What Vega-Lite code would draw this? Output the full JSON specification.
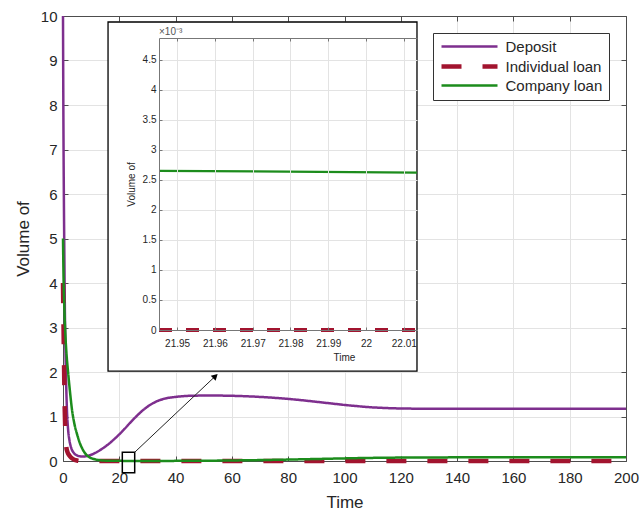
{
  "$schema": "https://vega.github.io/schema/vega-lite/v6.json",
  "width": 563,
  "height": 445,
  "autosize": {"type": "none"},
  "padding": {"left": 63, "top": 16, "right": 14, "bottom": 51},
  "background": "white",
  "config": {
    "font": "Liberation Sans",
    "view": {"stroke": null},
    "axis": {
      "labelColor": "#262626",
      "titleColor": "#262626",
      "titleFontWeight": "normal",
      "domainColor": "#4d4d4d",
      "tickColor": "#4d4d4d",
      "gridColor": "#e3e3e3",
      "gridOpacity": 1,
      "labelFlush": false,
      "labelOverlap": false
    }
  },
  "datasets": {
    "main": [
      {"series": "Deposit", "t": 0, "v": 10},
      {"series": "Deposit", "t": 0.1, "v": 8.3},
      {"series": "Deposit", "t": 0.2, "v": 7.0},
      {"series": "Deposit", "t": 0.35, "v": 5.6},
      {"series": "Deposit", "t": 0.5, "v": 4.5},
      {"series": "Deposit", "t": 0.7, "v": 3.2},
      {"series": "Deposit", "t": 0.9, "v": 2.4},
      {"series": "Deposit", "t": 1.1, "v": 1.8},
      {"series": "Deposit", "t": 1.4, "v": 1.15},
      {"series": "Deposit", "t": 1.8, "v": 0.72},
      {"series": "Deposit", "t": 2.3, "v": 0.46},
      {"series": "Deposit", "t": 3, "v": 0.28},
      {"series": "Deposit", "t": 4, "v": 0.17},
      {"series": "Deposit", "t": 5, "v": 0.125},
      {"series": "Deposit", "t": 6, "v": 0.105},
      {"series": "Deposit", "t": 7, "v": 0.1},
      {"series": "Deposit", "t": 8, "v": 0.105},
      {"series": "Deposit", "t": 9, "v": 0.12},
      {"series": "Deposit", "t": 10, "v": 0.14},
      {"series": "Deposit", "t": 12, "v": 0.2},
      {"series": "Deposit", "t": 14, "v": 0.28},
      {"series": "Deposit", "t": 16, "v": 0.37},
      {"series": "Deposit", "t": 18, "v": 0.48},
      {"series": "Deposit", "t": 20, "v": 0.6},
      {"series": "Deposit", "t": 22, "v": 0.73},
      {"series": "Deposit", "t": 24, "v": 0.87},
      {"series": "Deposit", "t": 26, "v": 1.0},
      {"series": "Deposit", "t": 28, "v": 1.12},
      {"series": "Deposit", "t": 30, "v": 1.22},
      {"series": "Deposit", "t": 32, "v": 1.3},
      {"series": "Deposit", "t": 34, "v": 1.36},
      {"series": "Deposit", "t": 36, "v": 1.4},
      {"series": "Deposit", "t": 40, "v": 1.44},
      {"series": "Deposit", "t": 45, "v": 1.465},
      {"series": "Deposit", "t": 50, "v": 1.47},
      {"series": "Deposit", "t": 55, "v": 1.47},
      {"series": "Deposit", "t": 60, "v": 1.465},
      {"series": "Deposit", "t": 65, "v": 1.455},
      {"series": "Deposit", "t": 70, "v": 1.44},
      {"series": "Deposit", "t": 75, "v": 1.42},
      {"series": "Deposit", "t": 80, "v": 1.395},
      {"series": "Deposit", "t": 85, "v": 1.365},
      {"series": "Deposit", "t": 90, "v": 1.33},
      {"series": "Deposit", "t": 95, "v": 1.295},
      {"series": "Deposit", "t": 100, "v": 1.26},
      {"series": "Deposit", "t": 105, "v": 1.23},
      {"series": "Deposit", "t": 110, "v": 1.205},
      {"series": "Deposit", "t": 115, "v": 1.19},
      {"series": "Deposit", "t": 120, "v": 1.18},
      {"series": "Deposit", "t": 130, "v": 1.175},
      {"series": "Deposit", "t": 140, "v": 1.175},
      {"series": "Deposit", "t": 160, "v": 1.175},
      {"series": "Deposit", "t": 180, "v": 1.175},
      {"series": "Deposit", "t": 200, "v": 1.175},
      {"series": "Individual loan", "t": 0, "v": 4},
      {"series": "Individual loan", "t": 0.3, "v": 2.5},
      {"series": "Individual loan", "t": 0.6, "v": 1.2},
      {"series": "Individual loan", "t": 0.9, "v": 0.55},
      {"series": "Individual loan", "t": 1.2, "v": 0.3},
      {"series": "Individual loan", "t": 1.6, "v": 0.2},
      {"series": "Individual loan", "t": 2.2, "v": 0.13},
      {"series": "Individual loan", "t": 3, "v": 0.07},
      {"series": "Individual loan", "t": 4, "v": 0.03},
      {"series": "Individual loan", "t": 5, "v": 0.01},
      {"series": "Individual loan", "t": 6, "v": 0},
      {"series": "Individual loan", "t": 200, "v": 0},
      {"series": "Company loan", "t": 0, "v": 5},
      {"series": "Company loan", "t": 0.2, "v": 4.1},
      {"series": "Company loan", "t": 0.5, "v": 3.4},
      {"series": "Company loan", "t": 0.8, "v": 2.9},
      {"series": "Company loan", "t": 1.2, "v": 2.45},
      {"series": "Company loan", "t": 1.8, "v": 2.0},
      {"series": "Company loan", "t": 2.5, "v": 1.55},
      {"series": "Company loan", "t": 3.2, "v": 1.15},
      {"series": "Company loan", "t": 4, "v": 0.85},
      {"series": "Company loan", "t": 5, "v": 0.6},
      {"series": "Company loan", "t": 6, "v": 0.4},
      {"series": "Company loan", "t": 7, "v": 0.26},
      {"series": "Company loan", "t": 8, "v": 0.16},
      {"series": "Company loan", "t": 9, "v": 0.1},
      {"series": "Company loan", "t": 10, "v": 0.065},
      {"series": "Company loan", "t": 12, "v": 0.028},
      {"series": "Company loan", "t": 14, "v": 0.012},
      {"series": "Company loan", "t": 17, "v": 0.005},
      {"series": "Company loan", "t": 22, "v": 0.0026},
      {"series": "Company loan", "t": 30, "v": 0.002},
      {"series": "Company loan", "t": 45, "v": 0.004},
      {"series": "Company loan", "t": 60, "v": 0.012},
      {"series": "Company loan", "t": 75, "v": 0.026},
      {"series": "Company loan", "t": 90, "v": 0.045},
      {"series": "Company loan", "t": 105, "v": 0.065},
      {"series": "Company loan", "t": 120, "v": 0.077},
      {"series": "Company loan", "t": 140, "v": 0.082},
      {"series": "Company loan", "t": 160, "v": 0.084},
      {"series": "Company loan", "t": 180, "v": 0.085},
      {"series": "Company loan", "t": 200, "v": 0.085}
    ],
    "inset_company": [
      {"t": 21.9452, "v": 0.00265},
      {"t": 22.0135, "v": 0.00262}
    ],
    "inset_individual": [
      {"t": 21.9452, "v": 0},
      {"t": 22.0135, "v": 0}
    ],
    "inset_note": [
      {"t": 21.9452, "v": 0.00486, "label": "×10⁻³"}
    ],
    "frame": [{"x": 16.0, "x2": 125.75, "y": 2.02, "y2": 9.865}],
    "zoombox": [{"x": 21.07, "x2": 25.47, "y": -0.263, "y2": 0.196}],
    "arrow": [{"x": 25.47, "y": 0.196, "x2": 54.14, "y2": 1.908}]
  },
  "resolve": {"scale": {"x": "independent", "y": "independent"}},
  "layer": [
    {
      "layer": [
        {
          "data": {"name": "main"},
          "mark": {"type": "line", "interpolate": "monotone"},
          "encoding": {
            "x": {
              "field": "t", "type": "quantitative",
              "scale": {"domain": [0, 200], "nice": false, "zero": false},
              "axis": {"orient": "bottom", "values": [0, 20, 40, 60, 80, 100, 120, 140, 160, 180, 200], "title": "Time", "titleFontSize": 17, "labelFontSize": 15, "grid": true, "tickSize": -5, "labelPadding": 14, "titlePadding": 9}
            },
            "y": {
              "field": "v", "type": "quantitative",
              "scale": {"domain": [0, 10], "nice": false},
              "axis": {"orient": "left", "values": [0, 1, 2, 3, 4, 5, 6, 7, 8, 9, 10], "title": "Volume of", "titleFontSize": 17, "labelFontSize": 15, "grid": true, "tickSize": -5, "labelPadding": 11, "titlePadding": 8}
            },
            "color": {
              "field": "series", "type": "nominal",
              "scale": {"domain": ["Deposit", "Individual loan", "Company loan"], "range": ["#7E2F8E", "#A2142F", "#1C8C1C"]},
              "legend": {"title": null, "orient": "top-right", "offset": 17, "strokeColor": "#333333", "fillColor": "white", "padding": 6, "symbolType": "M-5.6,0L5.6,0", "symbolSize": 100, "symbolOffset": 23, "labelFontSize": 15, "labelColor": "#262626", "labelOffset": 28.5, "rowPadding": 2}
            },
            "strokeDash": {
              "field": "series", "type": "nominal",
              "scale": {"domain": ["Deposit", "Individual loan", "Company loan"], "range": [[1, 0], [20, 21], [1, 0]]}
            },
            "strokeWidth": {
              "field": "series", "type": "nominal",
              "scale": {"type": "ordinal", "domain": ["Deposit", "Individual loan", "Company loan"], "range": [2.5, 4.5, 2.5]}
            }
          }
        },
        {
          "data": {"name": "frame"},
          "mark": {"type": "rect", "fill": "white", "stroke": "black", "strokeWidth": 1.3},
          "encoding": {
            "x": {"field": "x", "type": "quantitative"},
            "x2": {"field": "x2"},
            "y": {"field": "y", "type": "quantitative"},
            "y2": {"field": "y2"}
          }
        },
        {
          "data": {"name": "zoombox"},
          "mark": {"type": "rect", "fill": null, "fillOpacity": 0, "stroke": "black", "strokeWidth": 1.5},
          "encoding": {
            "x": {"field": "x", "type": "quantitative"},
            "x2": {"field": "x2"},
            "y": {"field": "y", "type": "quantitative"},
            "y2": {"field": "y2"}
          }
        },
        {
          "data": {"name": "arrow"},
          "mark": {"type": "rule", "color": "#222222", "strokeWidth": 1},
          "encoding": {
            "x": {"field": "x", "type": "quantitative"},
            "x2": {"field": "x2"},
            "y": {"field": "y", "type": "quantitative"},
            "y2": {"field": "y2"}
          }
        },
        {
          "data": {"name": "arrow"},
          "mark": {"type": "point", "shape": "triangle-up", "filled": true, "color": "black", "opacity": 1, "size": 50, "angle": 46.6},
          "encoding": {
            "x": {"field": "x2", "type": "quantitative"},
            "y": {"field": "y2", "type": "quantitative"}
          }
        }
      ]
    },
    {
      "data": {"name": "main"},
      "mark": {"type": "point", "opacity": 0},
      "encoding": {
        "x": {
          "field": "t", "type": "quantitative",
          "scale": {"domain": [0, 200], "nice": false, "zero": false},
          "axis": {"orient": "top", "values": [0, 20, 40, 60, 80, 100, 120, 140, 160, 180, 200], "labels": false, "title": null, "grid": false, "tickSize": -5}
        },
        "y": {
          "field": "v", "type": "quantitative",
          "scale": {"domain": [0, 10], "nice": false},
          "axis": {"orient": "right", "values": [0, 1, 2, 3, 4, 5, 6, 7, 8, 9, 10], "labels": false, "title": null, "grid": false, "tickSize": -5}
        }
      }
    },
    {
      "layer": [
        {
          "data": {"name": "inset_company"},
          "mark": {"type": "line", "color": "#1C8C1C", "strokeWidth": 2.2},
          "encoding": {
            "x": {
              "field": "t", "type": "quantitative",
              "scale": {"domain": [21.9452, 22.0135], "range": [96, 354], "nice": false, "zero": false},
              "axis": {"orient": "top", "offset": -22, "values": [21.95, 21.96, 21.97, 21.98, 21.99, 22, 22.01], "labels": false, "title": null, "grid": true, "tickSize": -3, "zindex": 1, "domainColor": "#777777", "tickColor": "#777777", "gridColor": "#e3e3e3"}
            },
            "y": {
              "field": "v", "type": "quantitative",
              "scale": {"domain": [0, 0.00486], "range": [314, 22], "nice": false, "zero": false},
              "axis": {"orient": "left", "offset": -96, "values": [0, 0.0005, 0.001, 0.0015, 0.002, 0.0025, 0.003, 0.0035, 0.004, 0.0045], "labelExpr": "format(datum.value * 1000, '~g')", "title": "Volume of", "titleFontSize": 10, "labelFontSize": 10, "grid": true, "tickSize": -3, "labelPadding": 6, "titlePadding": 6, "zindex": 1, "domainColor": "#777777", "tickColor": "#777777", "gridColor": "#e3e3e3"}
            }
          }
        },
        {
          "data": {"name": "inset_note"},
          "mark": {"type": "text", "align": "left", "baseline": "bottom", "dy": -1, "fontSize": 10, "color": "#555555"},
          "encoding": {
            "x": {"field": "t", "type": "quantitative"},
            "y": {"field": "v", "type": "quantitative"},
            "text": {"field": "label"}
          }
        }
      ]
    },
    {
      "data": {"name": "inset_individual"},
      "mark": {"type": "line", "color": "#A2142F", "strokeWidth": 4, "strokeDash": [13, 14]},
      "encoding": {
        "x": {
          "field": "t", "type": "quantitative",
          "scale": {"domain": [21.9452, 22.0135], "range": [96, 354], "nice": false, "zero": false},
          "axis": {"orient": "bottom", "offset": -131, "values": [21.95, 21.96, 21.97, 21.98, 21.99, 22, 22.01], "labelExpr": "format(datum.value, '~g')", "title": "Time", "titleX": 281, "titleY": 22, "titleFontSize": 10, "labelFontSize": 10, "grid": false, "tickSize": -3, "labelPadding": 11, "zindex": 1, "domainColor": "#777777", "tickColor": "#777777"}
        },
        "y": {
          "field": "v", "type": "quantitative",
          "scale": {"domain": [0, 0.00486], "range": [314, 22], "nice": false, "zero": false},
          "axis": null
        }
      }
    }
  ]
}
